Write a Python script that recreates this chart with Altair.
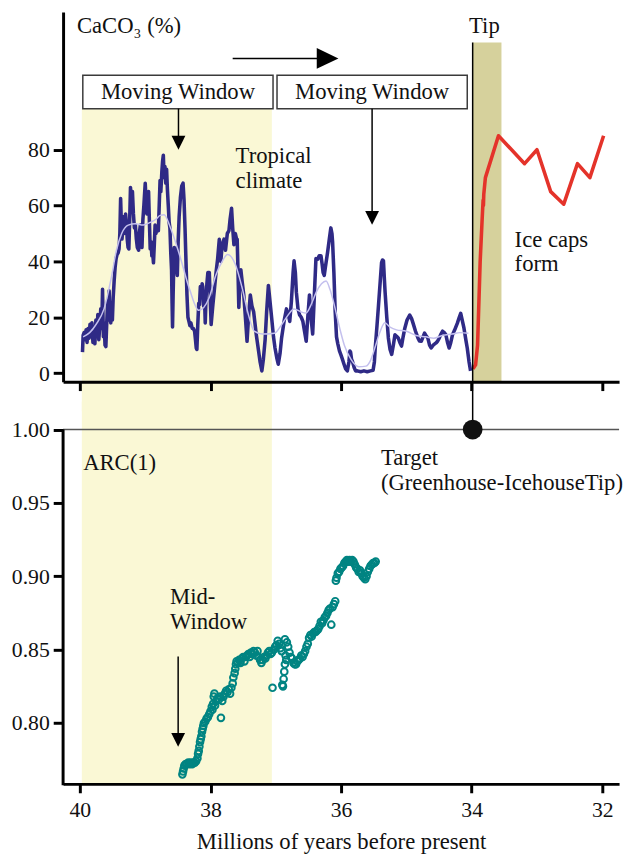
import altair as alt
import pandas as pd

# ---------------------------------------------------------------- data
# CaCO3 record before the transition (age in Ma, CaCO3 in %)
caco3_age = [
    39.96, 39.95, 39.935, 39.92, 39.905, 39.89, 39.875, 39.86, 39.845, 39.83,
    39.815, 39.80, 39.785, 39.77, 39.755, 39.74, 39.725, 39.71, 39.695, 39.68,
    39.665, 39.653, 39.64, 39.628, 39.615, 39.602, 39.59, 39.575, 39.562, 39.552,
    39.54, 39.527, 39.515, 39.502, 39.49, 39.475, 39.46, 39.445, 39.43, 39.415,
    39.40, 39.388, 39.376, 39.365, 39.355, 39.345, 39.335, 39.32, 39.30, 39.288,
    39.275, 39.262, 39.25, 39.238, 39.225, 39.21, 39.195, 39.18, 39.165, 39.15,
    39.135, 39.12, 39.10, 39.09, 39.074, 39.062, 39.049, 39.035, 39.02, 38.999,
    38.985, 38.974, 38.96, 38.948, 38.935, 38.923, 38.91, 38.898, 38.885, 38.873,
    38.86, 38.848, 38.835, 38.82, 38.798, 38.785, 38.772, 38.76, 38.745, 38.733,
    38.722, 38.71, 38.697, 38.685, 38.672, 38.66, 38.646, 38.633, 38.621, 38.608,
    38.596, 38.588, 38.581, 38.572, 38.563, 38.555, 38.546, 38.533, 38.52, 38.508,
    38.495, 38.48, 38.46, 38.44, 38.42, 38.405, 38.39, 38.375, 38.36, 38.345,
    38.33, 38.315, 38.30, 38.28, 38.262, 38.243, 38.23, 38.218, 38.208, 38.195,
    38.18, 38.168, 38.155, 38.14, 38.128, 38.118, 38.105, 38.09, 38.08, 38.068,
    38.055, 38.04, 38.018, 37.99, 37.965, 37.94, 37.915, 37.89, 37.865, 37.842,
    37.82, 37.792, 37.77, 37.742, 37.717, 37.70, 37.677, 37.66, 37.641, 37.62,
    37.60, 37.591, 37.578, 37.566, 37.55, 37.535, 37.516, 37.49, 37.465, 37.44,
    37.415, 37.39, 37.365, 37.339, 37.30, 37.264, 37.24, 37.213, 37.19, 37.163,
    37.14, 37.113, 37.09, 37.062, 37.035, 37.012, 36.985, 36.962, 36.935, 36.911,
    36.87, 36.836, 36.81, 36.786, 36.76, 36.735, 36.72, 36.70, 36.685, 36.66,
    36.635, 36.61, 36.585, 36.56, 36.534, 36.51, 36.484, 36.459, 36.435, 36.409,
    36.385, 36.358, 36.335, 36.308, 36.29, 36.275, 36.258, 36.24, 36.207, 36.18,
    36.157, 36.14, 36.13, 36.11, 36.09, 36.07, 36.05, 36.025, 36.005, 35.98,
    35.955, 35.93, 35.904, 35.88, 35.865, 35.854, 35.84, 35.829, 35.80, 35.778,
    35.75, 35.70, 35.65, 35.60, 35.55, 35.51, 35.49, 35.477, 35.45, 35.427,
    35.40, 35.38, 35.365, 35.351, 35.34, 35.326, 35.30, 35.276, 35.25, 35.225,
    35.20, 35.175, 35.15, 35.125, 35.10, 35.074, 35.05, 35.024, 34.99, 34.949,
    34.92, 34.898, 34.86, 34.823, 34.80, 34.772, 34.745, 34.722, 34.70, 34.672,
    34.645, 34.621, 34.59, 34.546, 34.52, 34.495, 34.47, 34.445, 34.42, 34.395,
    34.37, 34.345, 34.32, 34.294, 34.26, 34.219, 34.19, 34.168, 34.145, 34.118,
    34.09, 34.068, 34.04, 34.017,
]
caco3_pct = [
    7.5, 13.5, 14.5, 12, 15.5, 11, 16, 12.5, 17.5, 13,
    18, 11, 15, 10.5, 19, 13, 21, 12, 17, 23,
    16, 30, 13, 18, 10, 9.5, 17, 26, 19, 29.5,
    21, 18, 25, 19, 27, 33, 38, 41, 42.5, 43,
    44.5, 50, 62.5, 54, 48, 51, 56, 50, 57, 54,
    48, 45, 44.5, 54, 66.5, 61, 65, 57, 52, 53,
    48, 45, 44, 50, 53, 47, 45, 55, 60, 68,
    61, 57, 62, 65, 54, 44.5, 47, 42, 43, 39.5,
    46, 53, 50, 52, 51, 60, 69, 65, 72, 76,
    78, 70, 74, 68, 73, 66, 60, 54, 52, 43,
    37, 25, 16.5, 28, 38, 45, 44, 36, 40, 35,
    47, 56, 63, 67, 68, 62, 52, 40, 28, 20,
    18.5, 17, 18, 16, 16, 15, 12, 9, 8.5, 17,
    25, 24.5, 31, 28, 32, 31, 24, 26, 18, 27,
    32, 36, 36, 17.4, 24, 30, 36, 41, 47.9, 40,
    46, 48, 44, 50, 51, 55, 59, 52, 46, 50,
    48, 47.9, 36, 23.5, 32, 37, 33, 28, 20, 11.4,
    21, 28, 24, 22, 14, 8, 4, 0.8, 5, 12,
    22, 31.4, 26, 19.5, 13, 9, 5.5, 3.2, 7, 12.6,
    19, 23, 21, 18.5, 26, 36, 40.2, 36, 29, 23,
    20.8, 20, 18.5, 15, 11.4, 20, 28, 19.6, 14, 28,
    41, 40.8, 42, 42, 39, 36, 35, 38, 43.2, 48,
    52, 50, 47, 36, 22, 13, 10.5, 8, 6.7, 5,
    3.2, 1.5, 0.8, 4, 7.9, 7.5, 5, 4.4, 2, 0.8,
    0.8, 0.5, 0.8, 0.5, 0.8, 1, 4, 9, 17, 24.3,
    33, 39.6, 40.5, 40.2, 35, 29, 20, 12.6, 8.5, 6.7,
    10, 13.7, 13.2, 12.6, 11, 9.7, 13, 16.1, 19, 20.8,
    19.5, 17.9, 15, 12.6, 11.5, 11.4, 13, 14.3, 13.5, 12.6,
    10, 9, 10, 10.8, 11.5, 12.6, 14, 15, 14.5, 13.7,
    11, 9, 11, 13.7, 15.5, 17.9, 20, 21.4, 19, 16.1,
    12, 9, 4, 0.8,
]

# smoothed CaCO3 curve
smooth_age = [
    39.95, 39.85, 39.75, 39.63, 39.52, 39.44, 39.36, 39.26, 39.15, 39.03,
    38.92, 38.84, 38.77, 38.71, 38.62, 38.47, 38.32, 38.18, 38.02, 37.92,
    37.82, 37.74, 37.62, 37.52, 37.42, 37.33, 37.20, 37.02, 36.92, 36.82,
    36.72, 36.62, 36.54, 36.45, 36.38, 36.30, 36.23, 36.17, 36.10, 36.02,
    35.95, 35.85, 35.73, 35.62, 35.55, 35.47, 35.40, 35.33, 35.25, 35.15,
    35.00, 34.85, 34.70, 34.58, 34.45, 34.30, 34.18, 34.05,
]
smooth_pct = [
    13, 14.5, 17.5, 23, 34, 44, 50, 53, 53.5, 53,
    54, 55, 56.5, 56.7, 52.5, 42, 30, 22.5, 27, 35,
    40, 42.5, 39, 31, 21, 15, 14, 14.3, 17, 20.5,
    23, 22, 21.5, 25, 29, 32, 33, 30, 24, 16,
    10, 5, 2.3, 2.5, 4.5, 10, 15, 18, 16.5, 15.5,
    15, 13.5, 13, 12.5, 13.5, 14, 14.5, 14.3,
]

# CaCO3 after the tipping point
ice_age = [33.98, 33.94, 33.91, 33.87, 33.84, 33.825, 33.82, 33.815, 33.79,
           33.59, 33.19, 33.0, 32.79, 32.59, 32.38, 32.19, 31.98]
ice_pct = [1.5, 3, 10, 40, 55, 62, 60, 64, 70,
           85, 75, 80, 65, 60.5, 75, 70, 85]

# lag-1 autocorrelation, ARC(1), plotted at mid-window
arc_age = [
    38.43, 38.42, 38.41, 38.40, 38.38, 38.36, 38.34, 38.32, 38.30, 38.28,
    38.26, 38.24, 38.22, 38.20, 38.19, 38.18, 38.17, 38.16, 38.15, 38.14,
    38.13, 38.12, 38.11, 38.10, 38.08, 38.06, 38.04, 38.02, 38.00, 37.98,
    37.97, 37.96, 37.95, 37.94, 37.93, 37.91, 37.89, 37.87, 37.85, 37.84,
    37.82, 37.80, 37.78, 37.76, 37.74, 37.72, 37.70, 37.68, 37.66, 37.65,
    37.63, 37.62, 37.61, 37.60, 37.58, 37.56, 37.54, 37.52, 37.50, 37.48,
    37.46, 37.44, 37.42, 37.40, 37.38, 37.36, 37.34, 37.32, 37.30, 37.28,
    37.26, 37.24, 37.22, 37.20, 37.18, 37.16, 37.14, 37.12, 37.10, 37.08,
    37.06, 37.05, 37.03, 37.01, 36.99, 36.97, 36.95, 36.93, 36.91, 36.90,
    36.89, 36.88, 36.87, 36.86, 36.86, 36.85, 36.84, 36.83, 36.81, 36.79,
    36.77, 36.75, 36.73, 36.71, 36.69, 36.67, 36.65, 36.63, 36.61, 36.59,
    36.57, 36.55, 36.53, 36.51, 36.49, 36.47, 36.45, 36.43, 36.41, 36.39,
    36.37, 36.35, 36.33, 36.31, 36.29, 36.27, 36.25, 36.23, 36.21, 36.19,
    36.17, 36.15, 36.13, 36.11, 36.09, 36.08, 36.07, 36.05, 36.03, 36.01,
    35.99, 35.97, 35.95, 35.93, 35.91, 35.89, 35.87, 35.85, 35.83, 35.81,
    35.79, 35.77, 35.75, 35.73, 35.71, 35.69, 35.67, 35.65, 35.63, 35.61,
    35.59, 35.57, 35.55, 35.53, 35.51, 35.49, 35.47,
]
arc_val = [
    0.765, 0.767, 0.769, 0.771, 0.772, 0.772, 0.773, 0.772, 0.773, 0.772,
    0.773, 0.773, 0.774, 0.776, 0.779, 0.781, 0.784, 0.787, 0.789, 0.791,
    0.794, 0.796, 0.798, 0.800, 0.801, 0.803, 0.804, 0.806, 0.808, 0.811,
    0.809, 0.813, 0.818, 0.820, 0.812, 0.815, 0.817, 0.816, 0.818, 0.8035,
    0.815, 0.818, 0.820, 0.822, 0.821, 0.823, 0.820, 0.824, 0.827, 0.831,
    0.834, 0.837, 0.840, 0.842, 0.841, 0.843, 0.841, 0.844, 0.845, 0.842,
    0.845, 0.846, 0.847, 0.845, 0.848, 0.847, 0.849, 0.848, 0.846, 0.849,
    0.845, 0.843, 0.841, 0.843, 0.845, 0.844, 0.846, 0.848, 0.849, 0.847,
    0.848, 0.824, 0.850, 0.852, 0.853, 0.856, 0.854, 0.851, 0.849, 0.826,
    0.825, 0.830, 0.835, 0.840, 0.857, 0.846, 0.843, 0.855, 0.852, 0.848,
    0.845, 0.844, 0.841, 0.840, 0.840, 0.842, 0.843, 0.844, 0.846, 0.845,
    0.847, 0.849, 0.852, 0.854, 0.858, 0.860, 0.859, 0.861, 0.862, 0.862,
    0.863, 0.864, 0.866, 0.869, 0.868, 0.870, 0.872, 0.873, 0.875, 0.877,
    0.878, 0.867, 0.879, 0.881, 0.883, 0.897, 0.899, 0.902, 0.903, 0.905,
    0.906, 0.907, 0.909, 0.910, 0.911, 0.910, 0.911, 0.910, 0.911, 0.910,
    0.908, 0.906, 0.905, 0.903, 0.904, 0.902, 0.900, 0.899, 0.898, 0.900,
    0.903, 0.905, 0.907, 0.908, 0.909, 0.909, 0.910,
]

tick_years = [40, 38, 36, 34, 32]
caco3_ticks = [0, 20, 40, 60, 80]
arc_ticks = [0.80, 0.85, 0.90, 0.95, 1.00]

window_start, window_end = 39.97, 37.06   # first moving window
tip_start, tip_end = 33.985, 33.544       # greenhouse-icehouse tip

# ---------------------------------------------------------------- style
FONT = "Liberation Serif"
TXT = 23
NAVY = "#2f2a86"
LAV = "#c4c0ee"
RED = "#e4332a"
TEAL = "#008482"
YELLOW = "#faf8d5"
KHAKI = "#d6d19c"
INK = "#111111"

W = 564
H_TOP = 375
H_BOT = 408

XS = alt.Scale(domain=[31.743, 40.257], reverse=True, nice=False, zero=False)
YS_TOP = alt.Scale(domain=[-3.07, 129.3], nice=False, zero=False)
YS_BOT = alt.Scale(domain=[0.7585, 1.0326], nice=False, zero=False)

axis_style = dict(domainColor="black", domainWidth=3, tickColor="black",
                  tickWidth=3, labelFont=FONT, labelFontSize=22,
                  labelColor=INK, grid=False, zindex=1)
X_TOP = alt.Axis(values=tick_years, labels=False, title=None, tickSize=9,
                 **axis_style)
Y_TOP = alt.Axis(values=caco3_ticks, title=None, tickSize=10, labelPadding=4,
                 **axis_style)
X_BOT = alt.Axis(values=tick_years, title="Millions of years before present",
                 tickSize=9, labelPadding=7, titleFont=FONT, titleFontSize=TXT,
                 titleFontWeight="normal", titleColor=INK, titlePadding=11,
                 **axis_style)
Y_BOT = alt.Axis(values=arc_ticks, format=".2f", title=None, domain=False,
                 tickSize=10, labelPadding=4, **axis_style)


def xt(f="age"):
    return alt.X(f"{f}:Q", scale=XS, axis=X_TOP)


def yt(f="v"):
    return alt.Y(f"{f}:Q", scale=YS_TOP, axis=Y_TOP)


def xb(f="age"):
    return alt.X(f"{f}:Q", scale=XS, axis=X_BOT)


def yb(f="v"):
    return alt.Y(f"{f}:Q", scale=YS_BOT, axis=Y_BOT)


def df(**cols):
    return pd.DataFrame(cols)


# ---------------------------------------------------------------- top panel
top_band = alt.Chart(df(age=[window_start], age2=[window_end], v=[94.7])).mark_rect(
    color=YELLOW).encode(x=xt(), x2="age2:Q", y=yt(), y2=alt.value(H_TOP + 30))

tip_band = alt.Chart(df(age=[tip_start], age2=[tip_end], v=[118.4])).mark_rect(
    color=KHAKI).encode(x=xt(), x2="age2:Q", y=yt(), y2=alt.value(H_TOP))

record = alt.Chart(df(age=caco3_age, v=caco3_pct)).mark_line(
    color=NAVY, strokeWidth=3.6, strokeJoin="round").encode(x=xt(), y=yt())

smooth = alt.Chart(df(age=smooth_age, v=smooth_pct)).mark_line(
    color=LAV, strokeWidth=1.5, interpolate="monotone").encode(x=xt(), y=yt())

icehouse = alt.Chart(df(age=ice_age, v=ice_pct)).mark_line(
    color=RED, strokeWidth=3.6, strokeJoin="round").encode(x=xt(), y=yt())

tip_line = alt.Chart(df(age=[tip_start], v=[118.4])).mark_rule(
    color="black", strokeWidth=1.5).encode(x=xt(), y=yt(), y2=alt.value(H_TOP + 48.5))

boxes = alt.Chart(df(age=[39.955, 36.981], age2=[37.042, 34.068],
                     v=[106.7, 106.7], v2=[94.7, 94.7])).mark_rect(
    fill="white", stroke="#3a3a3a", strokeWidth=1.5).encode(
    x=xt(), x2="age2:Q", y=yt(), y2="v2:Q")

box_text = alt.Chart(df(age=[38.498, 35.525], v=[100.5, 100.5],
                        label=["Moving Window", "Moving Window"])).mark_text(
    font=FONT, fontSize=TXT, color=INK, align="center", baseline="middle").encode(
    x=xt(), y=yt(), text="label:N")

stems = alt.Chart(df(age=[38.49, 35.525, 37.66], age2=[38.49, 35.525, 36.207],
                     v=[94.7, 94.7, 112.7], v2=[82.5, 55.6, 112.7])).mark_rule(
    color="black", strokeWidth=1.5).encode(x=xt(), x2="age2:Q", y=yt(), y2="v2:Q")

heads_down = alt.Chart(df(age=[38.49, 35.525], v=[82.5, 55.6])).mark_point(
    shape="M-1,-1L1,-1L0,1Z", size=196, filled=True, color="black", opacity=1).encode(
    x=xt(), y=yt())

head_right = alt.Chart(df(age=[36.207], v=[112.7])).mark_point(
    shape="M-1,-0.95L1,0L-1,0.95Z", size=484, filled=True, color="black", opacity=1).encode(
    x=xt(), y=yt())

top_labels = alt.Chart(df(
    age=[40.045, 34.04, 37.615, 37.615, 33.343, 33.343],
    v=[124.4, 124.4, 77.75, 68.6, 47.6, 38.9],
    label=["CaCO\u2083 (%)", "Tip", "Tropical", "climate", "Ice caps", "form"],
)).mark_text(font=FONT, fontSize=TXT, color=INK, align="left", baseline="middle").encode(
    x=xt(), y=yt(), text="label:N")

top = alt.layer(
    top_band, tip_band, record, smooth, icehouse, tip_line, boxes, box_text,
    stems, heads_down, head_right, top_labels,
).properties(width=W, height=H_TOP)

# ---------------------------------------------------------------- bottom panel
bot_band = alt.Chart(df(age=[window_start], age2=[window_end])).mark_rect(
    color=YELLOW).encode(x=xb(), x2="age2:Q", y=alt.value(20), y2=alt.value(H_BOT))

target_line = alt.Chart(df(v=[1.0])).mark_rule(color="#555555", strokeWidth=1.5).encode(
    x=alt.value(0), x2=alt.value(W), y=yb())

left_axis = alt.Chart(df(v=[1.0])).mark_rule(color="black", strokeWidth=3).encode(
    x=alt.value(0), y=yb(), y2=alt.value(H_BOT + 1.5))

arc_points = alt.Chart(df(age=arc_age, v=arc_val)).mark_point(
    shape="circle", filled=False, size=46, strokeWidth=2, color=TEAL, opacity=1).encode(
    x=xb(), y=yb())

target_dot = alt.Chart(df(age=[tip_start], v=[1.0])).mark_point(
    shape="circle", filled=True, size=400, color=INK, opacity=1).encode(x=xb(), y=yb())

mid_stem = alt.Chart(df(age=[38.495], v=[0.8453], v2=[0.7885])).mark_rule(
    color="black", strokeWidth=1.5).encode(x=xb(), y=yb(), y2="v2:Q")

mid_head = alt.Chart(df(age=[38.495], v=[0.7885])).mark_point(
    shape="M-1,-1L1,-1L0,1Z", size=196, filled=True, color="black", opacity=1).encode(
    x=xb(), y=yb())

bot_labels = alt.Chart(df(
    age=[39.95, 35.39, 35.39, 38.62, 38.62],
    v=[0.9768, 0.9802, 0.9634, 0.8856, 0.8688],
    label=["ARC(1)", "Target", "(Greenhouse-IcehouseTip)", "Mid-", "Window"],
)).mark_text(font=FONT, fontSize=TXT, color=INK, align="left", baseline="middle").encode(
    x=xb(), y=yb(), text="label:N")

bottom = alt.layer(
    bot_band, target_line, left_axis, arc_points, target_dot, mid_stem, mid_head,
    bot_labels,
).properties(width=W, height=H_BOT)

chart = alt.vconcat(top, bottom, spacing=0, bounds="flush").properties(
    padding={"left": 11, "top": 6, "right": 0, "bottom": 0},
).configure_view(stroke=None)

chart.save("out.html", embed_options={"renderer": "svg", "actions": False})
